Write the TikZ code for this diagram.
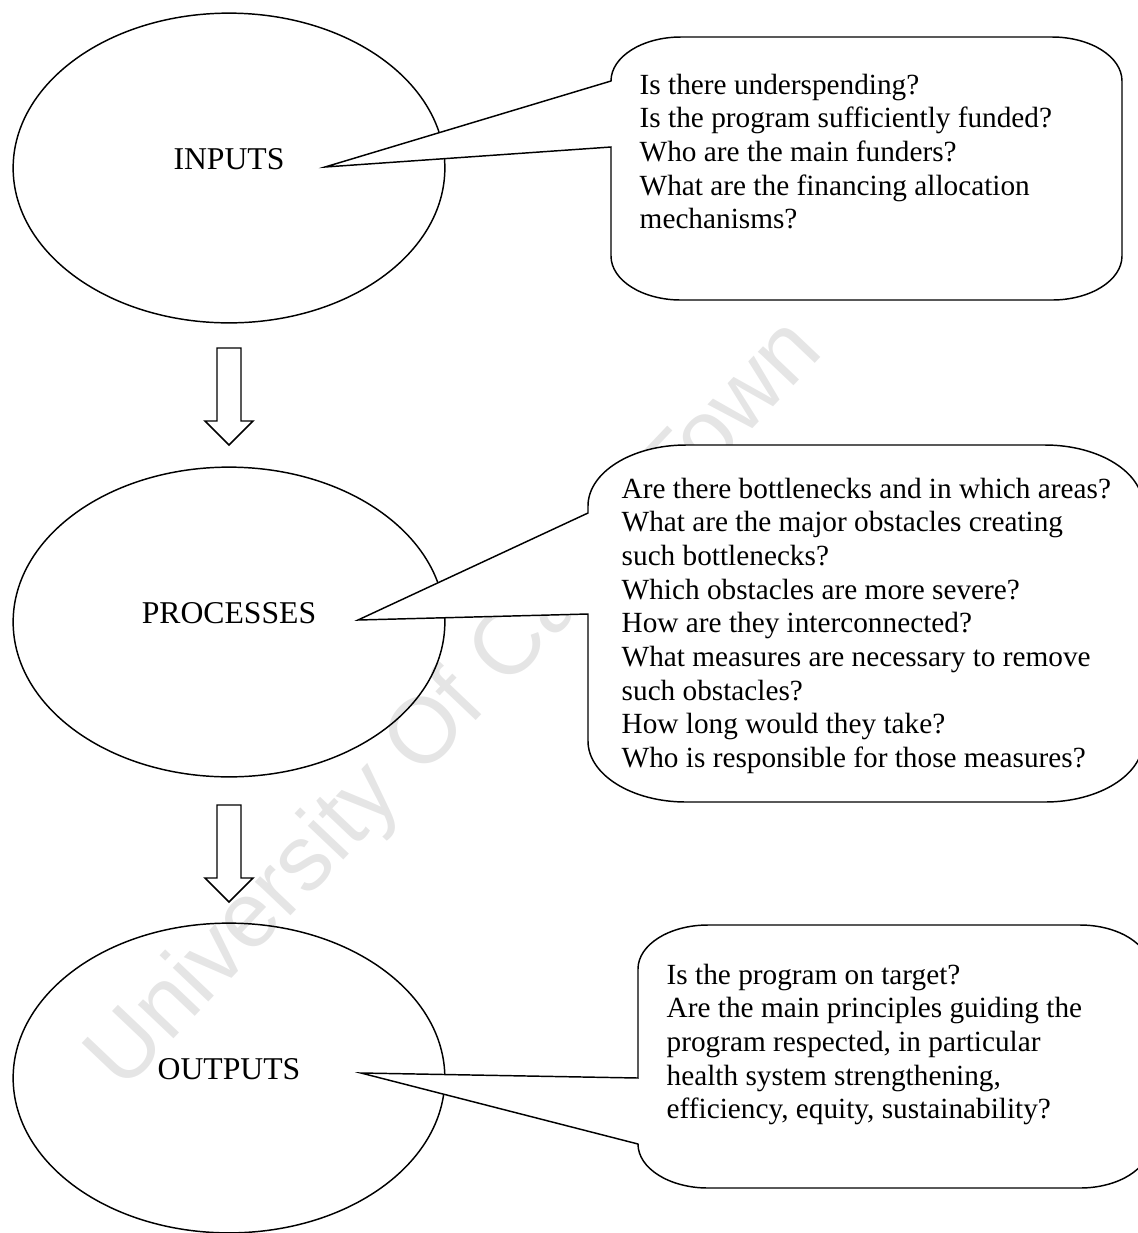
\documentclass[tikz,border=0pt]{standalone}
\usepackage{fontspec}
\setmainfont{Liberation Serif}
\newfontfamily\marksans{Liberation Sans}
\usepackage{tikz}
\usetikzlibrary{shapes.geometric}
\definecolor{markgray}{RGB}{229,229,229}

\newcommand{\blockdown}[1]{\draw #1 ++(-12,0) -- ++(24,0) -- ++(0,73) -- ++(12,0) -- ++(-24,24) -- ++(-24,-24) -- ++(12,0) -- cycle;}

\begin{document}
\begin{tikzpicture}[x=0.41pt, y=-0.41pt, line width=0.6pt,
  stage/.style={draw, ellipse, minimum width=177pt, minimum height=127pt, inner sep=0pt},
  stagename/.style={font=\fontsize{13}{15}\selectfont, yshift=3.5pt},
  bubble/.style={draw, fill=white},
  ask/.style={align=left, anchor=north west, inner sep=0pt, font=\fontsize{12}{13.8}\selectfont}]
  \useasboundingbox (0,0) rectangle (1138,1233);
  \clip (0,0) rectangle (1138,1233);

  % watermark
  \node[text=markgray, rotate=46.5, font=\marksans\fontsize{38}{38}\selectfont] (mark) at (457,706) {University Of Cape Town};

  % stages
  \node[stage, label={[stagename]center:INPUTS}] (inputs) at (229,168) {};
  \node[stage, label={[stagename]center:PROCESSES}] (processes) at (229,622) {};
  \node[stage, label={[stagename]center:OUTPUTS}] (outputs) at (229,1078) {};

  \coordinate (arrowA) at (229,348);
  \coordinate (arrowB) at (229,805);
  \blockdown{(arrowA)}
  \blockdown{(arrowB)}

  % callouts
  \coordinate (tipin) at (325,167);
  \coordinate (tipproc) at (358,620);
  \coordinate (tipout) at (361,1073);

  \draw[bubble] (681,37) -- (1052,37) arc[start angle=270, end angle=360, x radius=70, y radius=44]
    -- (1122,256) arc[start angle=0, end angle=90, x radius=70, y radius=44]
    -- (681,300) arc[start angle=90, end angle=180, x radius=70, y radius=44]
    -- (611,147) -- (tipin) -- (611,81) arc[start angle=180, end angle=270, x radius=70, y radius=44] -- cycle;

  \draw[bubble] (686,445) -- (1045,445) arc[start angle=270, end angle=360, x radius=98, y radius=61]
    -- (1143,741) arc[start angle=0, end angle=90, x radius=98, y radius=61]
    -- (686,802) arc[start angle=90, end angle=180, x radius=98, y radius=61]
    -- (588,614) -- (tipproc) -- (588,513) -- (588,506) arc[start angle=180, end angle=270, x radius=98, y radius=61] -- cycle;

  \draw[bubble] (708,925) -- (1080,925) arc[start angle=270, end angle=360, x radius=70, y radius=44]
    -- (1150,1144) arc[start angle=0, end angle=90, x radius=70, y radius=44]
    -- (708,1188) arc[start angle=90, end angle=180, x radius=70, y radius=44]
    -- (tipout) -- (638,1078) -- (638,969) arc[start angle=180, end angle=270, x radius=70, y radius=44] -- cycle;

  \node[ask] (qin) at (639,73) {Is there underspending?\\
    Is the program sufficiently funded?\\
    Who are the main funders?\\
    What are the financing allocation\\
    mechanisms?};
  \node[ask] (qproc) at (621,477) {Are there bottlenecks and in which areas?\\
    What are the major obstacles creating\\
    such bottlenecks?\\
    Which obstacles are more severe?\\
    How are they interconnected?\\
    What measures are necessary to remove\\
    such obstacles?\\
    How long would they take?\\
    Who is responsible for those measures?};
  \node[ask] (qout) at (666,963) {Is the program on target?\\
    Are the main principles guiding the\\
    program respected, in particular\\
    health system strengthening,\\
    efficiency, equity, sustainability?};
\end{tikzpicture}
\end{document}
